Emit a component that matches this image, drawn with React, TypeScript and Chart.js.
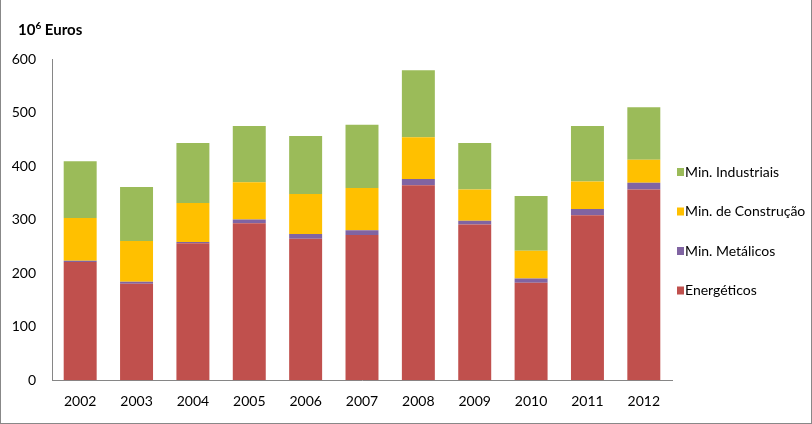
import React, { useEffect, useRef } from "react";
import { Chart, registerables } from "chart.js";

Chart.register(...registerables);

const years = ["2002", "2003", "2004", "2005", "2006", "2007", "2008", "2009", "2010", "2011", "2012"];
const energeticos = [221, 180, 256, 293, 264, 271, 364, 291, 182, 308, 356];
const metalicos = [2, 4, 2, 7, 9, 9, 12, 7, 8, 12, 13];
const construcao = [80, 76, 73, 70, 75, 79, 78, 58, 52, 51, 43];
const industriais = [106, 101, 112, 105, 108, 118, 125, 87, 102, 104, 98];
const yTicks = [0, 100, 200, 300, 400, 500, 600];

const FONT = "Lato, 'Open Sans', sans-serif";

const overlay = {
  id: "overlay",
  afterDraw(chart: any) {
    const ctx = chart.ctx;
    const area = chart.chartArea;
    ctx.save();
    // title with superscript
    ctx.fillStyle = "#000";
    ctx.textBaseline = "alphabetic";
    let x = area.left - 34;
    const base = area.top - 24;
    ctx.font = `bold 15px ${FONT}`;
    ctx.fillText("10", x, base);
    x += ctx.measureText("10").width;
    ctx.font = `bold 10px ${FONT}`;
    ctx.fillText("6", x, base - 6);
    x += ctx.measureText("6").width;
    ctx.font = `bold 15px ${FONT}`;
    ctx.fillText(" Euros", x, base);

    // legend (reversed order)
    const ds = chart.data.datasets.slice().reverse();
    ctx.font = `14px ${FONT}`;
    ctx.textBaseline = "middle";
    const lx = area.right + 5;
    const y0 = area.top + 113;
    ds.forEach((d: any, i: number) => {
      const y = y0 + i * 39.5;
      ctx.fillStyle = d.backgroundColor;
      ctx.fillRect(lx, y - 4, 7, 8);
      ctx.fillStyle = "#000";
      ctx.fillText(d.label, lx + 8, y);
    });
    ctx.restore();
  },
};

export default function App() {
  const ref = useRef<HTMLCanvasElement>(null);
  useEffect(() => {
    document.body.style.margin = "0";
    const chart = new Chart(ref.current!, {
      type: "bar",
      data: {
        labels: years,
        datasets: [
          { label: "Energéticos", data: energeticos, backgroundColor: "#C0504D" },
          { label: "Min. Metálicos", data: metalicos, backgroundColor: "#8064A2" },
          { label: "Min. de Construção", data: construcao, backgroundColor: "#FFC000" },
          { label: "Min. Industriais", data: industriais, backgroundColor: "#9BBB59" },
        ],
      },
      options: {
        animation: false,
        responsive: true,
        maintainAspectRatio: false,
        layout: { padding: { left: 0, right: 139, top: 59, bottom: 0 } },
        datasets: { bar: { barPercentage: 1, categoryPercentage: 0.585 } },
        plugins: { legend: { display: false }, title: { display: false }, tooltip: { enabled: false } },
        scales: {
          x: {
            stacked: true,
            afterFit: (s: any) => {
              s.paddingLeft = 0;
              s.paddingRight = 0;
            },
            grid: { display: false, drawTicks: false },
            border: { color: "#868686" },
            ticks: { color: "#000", font: { family: FONT, size: 14 }, padding: 13 },
          },
          y: {
            stacked: true,
            min: 0,
            max: 600,
            afterBuildTicks: (s: any) => {
              s.ticks = yTicks.map((v) => ({ value: v }));
            },
            afterFit: (s: any) => {
              s.width = 51;
            },
            grid: { display: false, drawTicks: false },
            border: { color: "#868686" },
            ticks: { color: "#000", font: { family: FONT, size: 14 }, padding: 16 },
          },
        },
      },
      plugins: [overlay],
    });
    return () => chart.destroy();
  }, []);
  return (
    <div
      style={{
        width: 812,
        height: 424,
        boxSizing: "border-box",
        borderLeft: "1px solid #888",
        borderRight: "1px solid #888",
        borderBottom: "1px solid #888",
        position: "relative",
        background: "#fff",
      }}
    >
      <canvas ref={ref} />
    </div>
  );
}
